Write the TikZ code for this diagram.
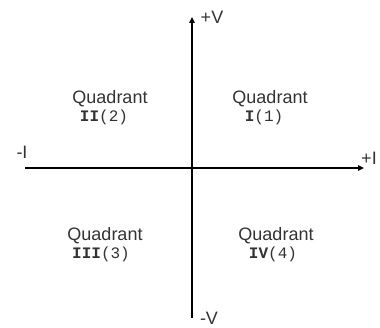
\documentclass[tikz,border=0pt]{standalone}
\usepackage{fontspec}
\setmainfont{Liberation Sans}
\newfontfamily\monof{Liberation Mono}
\usetikzlibrary{arrows.meta}
\definecolor{txtgray}{HTML}{333333}
\tikzset{
  axis/.style={line width=1.8pt, black, -{Triangle[length=6pt,width=5.5pt]}},
  axlbl/.style={font=\fontsize{18}{20}\selectfont, text=txtgray, inner sep=0pt},
  qword/.style={font=\fontsize{18}{20}\selectfont, text=txtgray, inner sep=0pt},
  qnum/.style={font=\monof\fontsize{16}{18}\selectfont, text=txtgray, inner sep=0pt}
}
\begin{document}
\begin{tikzpicture}[x=1pt,y=-1pt]
\useasboundingbox[fill=white] (0,0) rectangle (380,328);
\coordinate (vtop) at (192,17);
\coordinate (vbot) at (192,318);
\coordinate (hleft) at (25,168);
\coordinate (hright) at (364,168);
\draw[axis] (vbot) -- (vtop);
\draw[axis] (hleft) -- (hright);
\node[axlbl] (pv) at (212,17) {+V};
\node[axlbl] (mv) at (209,318) {-V};
\node[axlbl] (mi) at (22,152) {-I};
\node[axlbl] (pi) at (369,158) {+I};
\node[qword] (q1w) at (270,99) {Quadrant};
\node[qnum] (q1n) at (264,117) {\textbf{I}(1)};
\node[qword] (q2w) at (110,99) {Quadrant};
\node[qnum] (q2n) at (104,117) {\textbf{II}(2)};
\node[qword] (q3w) at (105,236) {Quadrant};
\node[qnum] (q3n) at (101,254) {\textbf{III}(3)};
\node[qword] (q4w) at (276,236) {Quadrant};
\node[qnum] (q4n) at (273,254) {\textbf{IV}(4)};
\end{tikzpicture}
\end{document}
